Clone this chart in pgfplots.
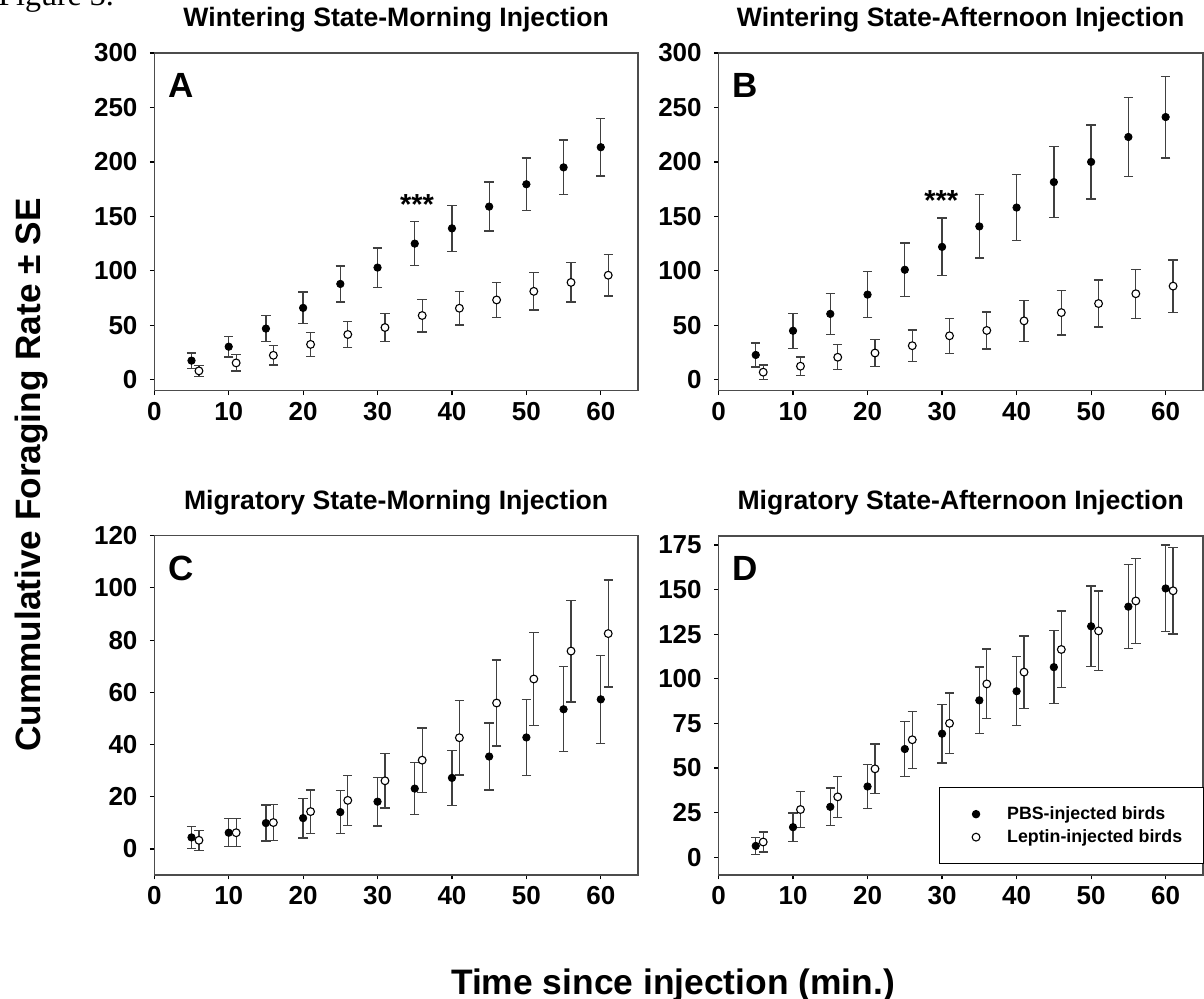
\documentclass[border=0pt]{standalone}
\usepackage{fontspec}
\setmainfont{Liberation Sans}
\newfontfamily\seriffont{Liberation Serif}
\usepackage{pgfplots}
\pgfplotsset{compat=1.18}

\pgfplotsset{
  panel/.style={
    scale only axis,
    xmin=0, xmax=65, xtick={0,10,...,60},
    axis line style={black!70, line width=0.6pt},
    tick style={black, line width=0.6pt},
    tick align=outside, major tick length=2.2pt,
    xtick pos=bottom, ytick pos=left,
    ticklabel style={font=\fontsize{13}{13}\selectfont\bfseries},
    /pgf/number format/assume math mode=true,
    yticklabel style={xshift=-2.7pt},
    title style={at={(0.5,1)}, anchor=base, yshift=7pt,
                 font=\fontsize{13.3}{14}\selectfont\bfseries},
    clip=false,
  },
  pbs/.style={only marks, mark=*, mark size=1.85pt, black,
    error bars/y dir=both, error bars/y explicit,
    error bars/error bar style={line width=0.65pt, black!75},
    error bars/error mark options={rotate=90, mark size=2.35pt, line width=0.65pt, black!75}},
  lep/.style={only marks, mark=*, mark size=1.95pt,
    mark options={fill=white, draw=black, line width=0.55pt},
    error bars/y dir=both, error bars/y explicit,
    error bars/error bar style={line width=0.65pt, black!75},
    error bars/error mark options={rotate=90, mark size=2.35pt, line width=0.65pt, black!75}},
}
\newcommand{\panellabel}[1]{\node[anchor=base west, inner sep=0pt,
  font=\fontsize{17.5}{18}\selectfont\bfseries, xshift=6.8pt, yshift=-22.2pt]
  at (rel axis cs:0,1) {#1};}

\begin{document}
\begin{tikzpicture}
\useasboundingbox (0pt,0pt) rectangle (602pt,-499.5pt);

% A
\begin{axis}[panel, at={(77.15pt,-26.5pt)}, anchor=north west,
  width=241.85pt, height=168.85pt,
  ymin=-10, ymax=300, ytick={0,50,...,300},
  title={Wintering State-Morning Injection}]
\addplot[pbs] table[x=x, y=y, y error=e] {
x y e
5 17.6 7
10 30.4 9.5
15 47 12
20 66 14.5
25 88 16.5
30 103 18
35 125 20
40 139 21
45 159 22.5
50 179.5 24
55 195 25
60 213.5 26.5
};
\addplot[lep] table[x=x, y=y, y error=e] {
x y e
6 8.2 5
11 15.5 7.5
16 22.5 9
21 32.5 11
26 41.6 12
31 48 13
36 59 15
41 65.7 15.5
46 73.3 16
51 81.2 17
56 89.4 18
61 96 19
};
\panellabel{A}
\node[font=\fontsize{14.5}{15}\selectfont\bfseries] at (axis cs:35.3,160.7) {***};
\end{axis}

% B
\begin{axis}[panel, at={(359.25pt,-26.5pt)}, anchor=north west,
  width=242.2pt, height=168.85pt,
  ymin=-10, ymax=300, ytick={0,50,...,300},
  title={Wintering State-Afternoon Injection}]
\addplot[pbs] table[x=x, y=y, y error=e] {
x y e
5 22.8 11
10 45 16
15 60.5 19
20 78.2 21
25 101 24.5
30 122 26.5
35 140.8 29
40 158.1 30.5
45 181.5 32.5
50 200 34
55 222.9 36
60 241.2 37.5
};
\addplot[lep] table[x=x, y=y, y error=e] {
x y e
6 7 6.5
11 12.5 8.5
16 20.7 11.5
21 24.6 12.5
26 31.3 14.5
31 40.4 16
36 45.3 17
41 54.1 19
46 61.7 20.5
51 70 21.5
56 79 22.5
61 86 24
};
\panellabel{B}
\node[font=\fontsize{14.5}{15}\selectfont\bfseries] at (axis cs:29.9,164.6) {***};
\end{axis}

% C
\begin{axis}[panel, at={(77.15pt,-267.85pt)}, anchor=north west,
  width=241.85pt, height=169.65pt,
  ymin=-10, ymax=120, ytick={0,20,...,120},
  title={Migratory State-Morning Injection}]
\addplot[pbs] table[x=x, y=y, y error=e] {
x y e
5 4.4 4.3
10 6.2 5.4
15 9.9 6.9
20 11.8 7.6
25 14.1 8.2
30 18.1 9.3
35 23.1 10
40 27.2 10.6
45 35.4 12.8
50 42.7 14.5
55 53.5 16.3
60 57.3 16.8
};
\addplot[lep] table[x=x, y=y, y error=e] {
x y e
6 3.3 3.8
11 6.2 5.4
16 10.1 7
21 14.3 8.3
26 18.6 9.6
31 26.1 10.4
36 34 12.3
41 42.6 14.3
46 55.9 16.5
51 65.1 17.8
56 75.8 19.5
61 82.5 20.5
};
\panellabel{C}
\end{axis}

% D
\begin{axis}[panel, at={(359.25pt,-268pt)}, anchor=north west,
  width=242.2pt, height=169.5pt,
  ymin=-10, ymax=180, ytick={0,25,...,175},
  title={Migratory State-Afternoon Injection},
  legend style={at={(0.4557,0.2587)}, anchor=north west, draw=black,
    line width=0.5pt, font=\fontsize{8.9}{10}\selectfont\bfseries,
    inner xsep=10.7pt, inner ysep=9.2pt, row sep=3.55pt, column sep=13.6pt,
    nodes={inner sep=0pt}, cells={anchor=west}},
  legend image code/.code={\path (-7.2pt,0pt); \draw[#1] plot coordinates {(0pt,0pt)};}]
\addplot[pbs] table[x=x, y=y, y error=e] {
x y e
5 6.3 4.8
10 16.8 8
15 28.2 10.6
20 39.6 12.4
25 60.6 15.4
30 69.2 16.5
35 87.9 18.6
40 93 19.3
45 106.5 20.4
50 129.4 22.5
55 140.4 23.5
60 150.6 24.3
};
\addlegendentry{PBS-injected birds}
\addplot[lep] table[x=x, y=y, y error=e] {
x y e
6 8.5 5.6
11 26.7 10.2
16 33.8 11.4
21 49.5 14
26 65.8 16
31 75 17
36 97.1 19.5
41 103.7 20.2
46 116.4 21.5
51 126.8 22.3
56 143.6 23.8
61 149.3 24.2
};
\addlegendentry{Leptin-injected birds}
\panellabel{D}
\end{axis}

\node[rotate=90, anchor=base, font=\fontsize{17.6}{18}\selectfont\bfseries]
  at (20.35pt,-237.5pt) {Cummulative Foraging Rate ± SE};
\node[anchor=base, font=\fontsize{17.7}{18}\selectfont\bfseries]
  at (336.5pt,-497.25pt) {Time since injection (min.)};
\node[anchor=base west, inner sep=0pt, font=\seriffont\fontsize{16}{16}\selectfont]
  at (-1pt,-3pt) {Figure 3.};
\end{tikzpicture}
\end{document}
